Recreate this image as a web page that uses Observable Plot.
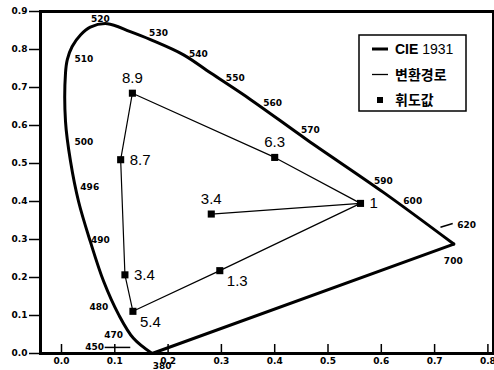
<!DOCTYPE html>
<html><head><meta charset="utf-8">
<script src="https://cdn.jsdelivr.net/npm/d3@7"></script>
<script src="https://cdn.jsdelivr.net/npm/@observablehq/plot@0.6"></script>
<style>
body{margin:0;background:#fff;}
#chart{width:494px;height:370px;}
</style></head><body><div id="chart"></div>
<script>
// ---- data ----
// Spectral locus, 380 nm round the horseshoe to 700 nm
const locusX = [0.170,0.135,0.107,0.079,0.054,0.032,0.017,0.0075,0.0075,0.011,0.020,0.036,0.054,0.086,0.129,0.167,0.229,0.280,0.355,0.461,0.604,0.736];
const locusY = [0.000,0.040,0.103,0.190,0.295,0.400,0.505,0.611,0.738,0.774,0.808,0.839,0.859,0.868,0.847,0.826,0.786,0.738,0.668,0.562,0.424,0.288];
// purple line 700 nm -> 380 nm
const purpleX = [0.736, 0.170];
const purpleY = [0.288, 0.000];

// wavelength annotations
const wlLabels = ["380","450","470","480","490","496","500","510","520","530","540","550","560","570","590","600","620","700"];
const wlX = [0.189,0.062,0.098,0.070,0.073,0.053,0.042,0.042,0.073,0.182,0.257,0.326,0.396,0.467,0.604,0.659,0.760,0.735];
const wlY = [-0.032,0.016,0.049,0.122,0.299,0.438,0.555,0.774,0.880,0.842,0.788,0.726,0.659,0.587,0.453,0.400,0.339,0.242];
// leader dashes (450 and 620)
const leadX1 = [0.081, 0.711], leadY1 = [0.016, 0.332];
const leadX2 = [0.129, 0.734], leadY2 = [0.016, 0.342];

// luminance points
const pointLabels = ["1","1.3","5.4","3.4","8.7","8.9","6.3","3.4"];
const pointX = [0.561,0.297,0.134,0.119,0.111,0.133,0.400,0.281];
const pointY = [0.395,0.218,0.111,0.207,0.510,0.685,0.516,0.367];
// order of the transformation path through the points
const pathOrder = [0,1,2,3,4,5,6,0,7];

const xTicks = [0,0.1,0.2,0.3,0.4,0.5,0.6,0.7,0.8];
const yTicks = [0,0.1,0.2,0.3,0.4,0.5,0.6,0.7,0.8,0.9];

const legendItems = ["CIE 1931","변환경로","휘도값"];

// ---- drawing ----
const placement = ["right","belowRight","belowRight","right","right","above","above","above"];
const fmt = d3.format(".1f");
const idx = n => d3.range(n);
const ptFont = {fontFamily:"Liberation Sans, Arial, sans-serif", fontSize:15, fontWeight:"normal", fill:"#000"};

const plot = Plot.plot({
  width: 494, height: 370,
  marginLeft: 40, marginRight: 1, marginTop: 11, marginBottom: 17,
  style: {fontFamily: "DejaVu Sans", fontSize: "9px", fontWeight: "bold", background: "#fff", color: "#000"},
  x: {domain: [-0.0394, 0.8105]},
  y: {domain: [0, 0.9]},
  marks: [
    Plot.axisX({ticks: xTicks, tickSize: -9, tickPadding: 13, tickFormat: fmt, label: null, strokeWidth: 1.5}),
    Plot.axisY({ticks: yTicks, tickSize: 11, tickPadding: 2, tickFormat: fmt, label: null, strokeWidth: 1.5}),
    Plot.line(idx(locusX.length), {x: i => locusX[i], y: i => locusY[i], curve: "catmull-rom", stroke: "#000", strokeWidth: 3}),
    Plot.line(idx(purpleX.length), {x: i => purpleX[i], y: i => purpleY[i], stroke: "#000", strokeWidth: 3}),
    Plot.link(idx(leadX1.length), {x1: i => leadX1[i], y1: i => leadY1[i], x2: i => leadX2[i], y2: i => leadY2[i], stroke: "#000", strokeWidth: 1.5}),
    Plot.text(idx(wlLabels.length), {x: i => wlX[i], y: i => wlY[i], text: i => wlLabels[i], fontSize: 9, fontWeight: "bold", fill: "#000"}),
    Plot.line(pathOrder, {x: i => pointX[i], y: i => pointY[i], stroke: "#000", strokeWidth: 1.2}),
    Plot.dot(idx(pointX.length), {x: i => pointX[i], y: i => pointY[i], symbol: "square", r: 4, fill: "#000", stroke: null}),
    Plot.text(idx(pointX.length).filter(i => placement[i] === "right"), {x: i => pointX[i], y: i => pointY[i], text: i => pointLabels[i], textAnchor: "start", dx: 9, ...ptFont}),
    Plot.text(idx(pointX.length).filter(i => placement[i] === "belowRight"), {x: i => pointX[i], y: i => pointY[i], text: i => pointLabels[i], textAnchor: "start", dx: 7, dy: 11, ...ptFont}),
    Plot.text(idx(pointX.length).filter(i => placement[i] === "above"), {x: i => pointX[i], y: i => pointY[i], text: i => pointLabels[i], dy: -15, ...ptFont}),
    Plot.frame({stroke: "#000", strokeWidth: 3})
  ]
});
document.getElementById("chart").appendChild(plot);

// legend inside the plot area
const svg = d3.select(plot);
const lg = svg.append("g").attr("text-anchor", "start");
lg.append("rect").attr("x", 359).attr("y", 35).attr("width", 107).attr("height", 76)
  .attr("fill", "#fff").attr("stroke", "#000").attr("stroke-width", 1.5);
const rowY = [49, 74.5, 100];
lg.append("line").attr("x1", 372).attr("x2", 388).attr("y1", rowY[0]).attr("y2", rowY[0]).attr("stroke", "#000").attr("stroke-width", 3);
lg.append("line").attr("x1", 372).attr("x2", 388).attr("y1", rowY[1]).attr("y2", rowY[1]).attr("stroke", "#000").attr("stroke-width", 1.3);
lg.append("rect").attr("x", 377).attr("y", rowY[2] - 3).attr("width", 6).attr("height", 6).attr("fill", "#000");
const t0 = lg.append("text").attr("x", 395).attr("y", rowY[0]).attr("dy", "0.36em").attr("text-anchor", "start")
  .style("font-family", "Liberation Sans, Arial, sans-serif").style("font-size", "14px").style("font-weight", "normal");
const parts = legendItems[0].split(" ");
t0.append("tspan").style("font-weight", "bold").text(parts[0]);
t0.append("tspan").text(" " + parts[1]);
[1, 2].forEach(k => {
  lg.append("text").attr("x", 395).attr("y", rowY[k]).attr("dy", "0.36em").attr("text-anchor", "start")
    .style("font-family", "Noto Sans CJK KR").style("font-size", "14px").style("font-weight", "bold")
    .text(legendItems[k]);
});
</script></body></html>
